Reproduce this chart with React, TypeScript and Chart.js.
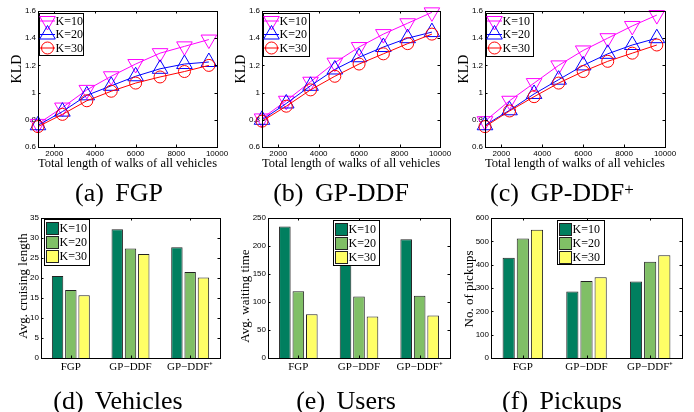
import React, { useEffect, useRef } from "react";
import { Chart, registerables } from "chart.js";
import { drawPoint } from "chart.js/helpers";

Chart.register(...registerables);

const W = 694;
const H = 412;

// ---------- data ----------
const walkLengths = [1200, 2400, 3600, 4800, 6000, 7200, 8400, 9600];
const walkTicks = [2000, 4000, 6000, 8000, 10000];
const kldTicks = [0.6, 0.8, 1.0, 1.2, 1.4, 1.6];
const seriesLabels = ["K=10", "K=20", "K=30"];

const fgpK10 = [0.77, 0.89, 1.02, 1.12, 1.21, 1.29, 1.34, 1.39];
const fgpK20 = [0.76, 0.86, 0.98, 1.05, 1.12, 1.175, 1.21, 1.225];
const fgpK30 = [0.75, 0.84, 0.94, 1.01, 1.07, 1.115, 1.155, 1.2];

const ddfK10 = [0.81, 0.94, 1.08, 1.22, 1.335, 1.43, 1.51, 1.59];
const ddfK20 = [0.8, 0.92, 1.05, 1.17, 1.26, 1.335, 1.4, 1.445];
const ddfK30 = [0.79, 0.9, 1.02, 1.12, 1.21, 1.285, 1.36, 1.43];

const ddfPlusK10 = [0.79, 0.94, 1.07, 1.2, 1.31, 1.4, 1.49, 1.57];
const ddfPlusK20 = [0.76, 0.87, 0.99, 1.095, 1.2, 1.285, 1.35, 1.4];
const ddfPlusK30 = [0.75, 0.865, 0.97, 1.07, 1.155, 1.23, 1.29, 1.35];

const methods = ["FGP", "GP\u2212DDF", "GP\u2212DDF\u207A"];

const cruisingK10 = [20.5, 32.2, 27.7];
const cruisingK20 = [17, 27.4, 21.5];
const cruisingK30 = [15.7, 26, 20.1];
const cruisingTicks = [0, 5, 10, 15, 20, 25, 30, 35];

const waitingK10 = [235, 220, 212];
const waitingK20 = [119, 110, 111];
const waitingK30 = [78, 74, 76];
const waitingTicks = [0, 50, 100, 150, 200, 250];

const pickupsK10 = [430, 285, 328];
const pickupsK20 = [512, 330, 413];
const pickupsK30 = [550, 346, 440];
const pickupsTicks = [0, 100, 200, 300, 400, 500, 600];

// ---------- styles ----------
const lineColors = ["#ff00ff", "#0000ff", "#ff0000"];
const markerStyles = ["triangle", "triangle", "circle"];
const markerRotations = [180, 0, 0];
const markerRadii = [9, 9, 6];
const barColors = ["#007f5f", "#80bf66", "#ffff66"];
const SERIF = "'Liberation Serif', 'Times New Roman', serif";
const SANS = "'Liberation Sans', Arial, sans-serif";

type Rect = [number, number, number, number];

const decor = {
  id: "decor",
  afterDraw(chart: any, _args: any, opts: any) {
    const { ctx, chartArea: a } = chart;
    const xs = chart.scales.x;
    const ys = chart.scales.y;
    const tl = 2.5;
    ctx.save();
    ctx.strokeStyle = "#000";
    ctx.lineWidth = 1;
    ctx.beginPath();
    xs.ticks.forEach((_t: any, i: number) => {
      const p = Math.round(xs.getPixelForTick(i)) + 0.5;
      ctx.moveTo(p, a.bottom);
      ctx.lineTo(p, a.bottom - tl);
      ctx.moveTo(p, a.top);
      ctx.lineTo(p, a.top + tl);
    });
    ys.ticks.forEach((_t: any, i: number) => {
      const p = Math.round(ys.getPixelForTick(i)) + 0.5;
      ctx.moveTo(a.left, p);
      ctx.lineTo(a.left + tl, p);
      ctx.moveTo(a.right, p);
      ctx.lineTo(a.right - tl, p);
    });
    ctx.stroke();
    ctx.strokeRect(
      Math.round(a.left) + 0.5,
      Math.round(a.top) + 0.5,
      Math.round(a.width),
      Math.round(a.height)
    );

    // legend
    const lg = opts.legend;
    if (lg) {
      ctx.fillStyle = "#fff";
      ctx.fillRect(lg.x, lg.y, lg.w, lg.h);
      ctx.strokeStyle = "#000";
      ctx.strokeRect(Math.round(lg.x) + 0.5, Math.round(lg.y) + 0.5, lg.w, lg.h);
      ctx.font = `${lg.size}px ${SERIF}`;
      ctx.textBaseline = "middle";
      ctx.textAlign = "left";
      chart.data.datasets.forEach((ds: any, i: number) => {
        const ry = lg.y + lg.rows[i];
        if (opts.kind === "line") {
          ctx.strokeStyle = ds.borderColor;
          ctx.lineWidth = 1;
          ctx.beginPath();
          ctx.moveTo(lg.x + 1, ry);
          ctx.lineTo(lg.x + 16, ry);
          ctx.stroke();
          ctx.fillStyle = "rgba(0,0,0,0)";
          drawPoint(
            ctx,
            {
              pointStyle: ds.pointStyle,
              rotation: ds.pointRotation,
              radius: ds.pointRadius,
              borderWidth: 1,
            } as any,
            lg.x + 8.5,
            ry
          );
          ctx.fillStyle = "#000";
          ctx.fillText(ds.label, lg.x + 16.5, ry + 0.5);
        } else {
          ctx.fillStyle = ds.backgroundColor;
          ctx.fillRect(lg.x + 2.5, ry - 6, 12, 12);
          ctx.strokeStyle = "#222";
          ctx.strokeRect(lg.x + 2.5, ry - 6, 12, 12);
          ctx.fillStyle = "#000";
          ctx.fillText(ds.label, lg.x + 15.5, ry + 0.5);
        }
      });
    }

    // y title
    const yt = opts.yTitle;
    if (yt) {
      ctx.save();
      ctx.translate(yt.x, yt.y);
      ctx.rotate(-Math.PI / 2);
      ctx.font = `${yt.size}px ${SERIF}`;
      ctx.fillStyle = "#000";
      ctx.textAlign = "center";
      ctx.textBaseline = "middle";
      ctx.fillText(yt.text, 0, 0);
      ctx.restore();
    }
    ctx.restore();
  },
};

function lineConfig(rect: Rect, series: number[][], legend: any, yTitle: any) {
  const [L, T, R, B] = rect;
  const yW = 20;
  const xH = 24;
  return {
    type: "line",
    data: {
      datasets: series.map((vals, i) => ({
        label: seriesLabels[i],
        data: walkLengths.map((x, j) => ({ x, y: vals[j] })),
        borderColor: lineColors[i],
        borderWidth: 1,
        pointStyle: markerStyles[i],
        pointRotation: markerRotations[i],
        pointRadius: markerRadii[i],
        pointBorderWidth: 1,
        pointBorderColor: lineColors[i],
        pointBackgroundColor: "rgba(0,0,0,0)",
        tension: 0,
        fill: false,
        clip: false,
        order: 2 - i,
      })),
    },
    options: {
      responsive: false,
      animation: false,
      devicePixelRatio: 1,
      events: [],
      layout: { padding: { left: L - yW, top: T, right: W - R, bottom: H - B - xH } },
      plugins: {
        legend: { display: false },
        tooltip: { enabled: false },
        decor: { kind: "line", legend, yTitle },
      },
      scales: {
        x: {
          type: "linear",
          min: 1200,
          max: 10000,
          afterFit: (s: any) => {
            s.height = xH;
          },
          afterBuildTicks: (s: any) => {
            s.ticks = walkTicks.map((v) => ({ value: v }));
          },
          grid: { display: false, drawTicks: false },
          border: { display: false },
          ticks: {
            color: "#000",
            font: { family: SANS, size: 8 },
            padding: 2,
            maxRotation: 0,
            autoSkip: false,
            callback: (v: any) => String(v),
          },
          title: {
            display: true,
            text: "Total length of walks of all vehicles",
            color: "#000",
            font: { family: SERIF, size: 13 },
            padding: 0,
          },
        },
        y: {
          type: "linear",
          min: 0.6,
          max: 1.6,
          afterFit: (s: any) => {
            s.width = yW;
          },
          afterBuildTicks: (s: any) => {
            s.ticks = kldTicks.map((v) => ({ value: v }));
          },
          grid: { display: false, drawTicks: false },
          border: { display: false },
          ticks: {
            color: "#000",
            font: { family: SANS, size: 8 },
            padding: 2,
            autoSkip: false,
            callback: (v: any) => String(Number(Number(v).toFixed(1))),
          },
        },
      },
    },
    plugins: [decor],
  };
}

function barConfig(rect: Rect, series: number[][], ticks: number[], legend: any, yTitle: any) {
  const [L, T, R, B] = rect;
  const yW = 20;
  const xH = 22;
  return {
    type: "bar",
    data: {
      labels: methods,
      datasets: series.map((vals, i) => ({
        label: seriesLabels[i],
        data: vals,
        backgroundColor: barColors[i],
        borderColor: "#222",
        borderWidth: 1,
        categoryPercentage: 0.667,
        barPercentage: 0.86,
      })),
    },
    options: {
      responsive: false,
      animation: false,
      devicePixelRatio: 1,
      events: [],
      layout: { padding: { left: L - yW, top: T, right: W - R, bottom: H - B - xH } },
      plugins: {
        legend: { display: false },
        tooltip: { enabled: false },
        decor: { kind: "bar", legend, yTitle },
      },
      scales: {
        x: {
          type: "category",
          offset: true,
          afterFit: (s: any) => {
            s.height = xH;
          },
          grid: { display: false, drawTicks: false, offset: true },
          border: { display: false },
          ticks: {
            color: "#000",
            font: { family: SERIF, size: 11 },
            padding: 3,
            maxRotation: 0,
            autoSkip: false,
          },
        },
        y: {
          type: "linear",
          min: ticks[0],
          max: ticks[ticks.length - 1],
          afterFit: (s: any) => {
            s.width = yW;
          },
          afterBuildTicks: (s: any) => {
            s.ticks = ticks.map((v) => ({ value: v }));
          },
          grid: { display: false, drawTicks: false },
          border: { display: false },
          ticks: {
            color: "#000",
            font: { family: SANS, size: 8 },
            padding: 2,
            autoSkip: false,
            callback: (v: any) => String(v),
          },
        },
      },
    },
    plugins: [decor],
  };
}

function Panel({ make }: { make: () => any }) {
  const ref = useRef<HTMLCanvasElement>(null);
  useEffect(() => {
    const chart = new Chart(ref.current as HTMLCanvasElement, make());
    return () => chart.destroy();
  }, []);
  return (
    <canvas
      ref={ref}
      width={W}
      height={H}
      style={{ position: "absolute", left: 0, top: 0, width: W, height: H }}
    />
  );
}

const lineRows = [8, 21.5, 35];
const barRows = [9.5, 23.5, 37.5];

function Caption({ cx, top, children }: { cx: number; top: number; children: any }) {
  return (
    <div
      style={{
        position: "absolute",
        left: cx - 120,
        width: 240,
        top,
        textAlign: "center",
        fontFamily: SERIF,
        fontSize: 26,
        lineHeight: "26px",
        wordSpacing: "5px",
        whiteSpace: "nowrap",
        color: "#000",
      }}
    >
      {children}
    </div>
  );
}

export default function App() {
  return (
    <div
      style={{
        position: "absolute",
        left: 0,
        top: 0,
        width: W,
        height: H,
        background: "#fff",
        overflow: "hidden",
      }}
    >
      <Panel
        make={() =>
          lineConfig(
            [38, 11, 217, 147],
            [fgpK10, fgpK20, fgpK30],
            { x: 39, y: 13, w: 44, h: 42, rows: lineRows, size: 12 },
            { text: "KLD", x: 17, y: 69, size: 14 }
          )
        }
      />
      <Panel
        make={() =>
          lineConfig(
            [262, 11, 440, 147],
            [ddfK10, ddfK20, ddfK30],
            { x: 263, y: 13, w: 46, h: 43, rows: lineRows, size: 12 },
            { text: "KLD", x: 241, y: 69, size: 14 }
          )
        }
      />
      <Panel
        make={() =>
          lineConfig(
            [485, 11, 665, 147],
            [ddfPlusK10, ddfPlusK20, ddfPlusK30],
            { x: 486, y: 13, w: 47, h: 43, rows: lineRows, size: 12 },
            { text: "KLD", x: 464, y: 69, size: 14 }
          )
        }
      />
      <Panel
        make={() =>
          barConfig(
            [41, 218, 220, 358],
            [cruisingK10, cruisingK20, cruisingK30],
            cruisingTicks,
            { x: 44, y: 219, w: 45, h: 46, rows: barRows, size: 12 },
            { text: "Avg. cruising length", x: 24, y: 286, size: 13 }
          )
        }
      />
      <Panel
        make={() =>
          barConfig(
            [268, 218, 450, 358],
            [waitingK10, waitingK20, waitingK30],
            waitingTicks,
            { x: 333, y: 220, w: 46, h: 45, rows: barRows, size: 12 },
            { text: "Avg. waiting time", x: 246, y: 296, size: 13 }
          )
        }
      />
      <Panel
        make={() =>
          barConfig(
            [491, 218, 682, 358],
            [pickupsK10, pickupsK20, pickupsK30],
            pickupsTicks,
            { x: 557, y: 220, w: 47, h: 44, rows: barRows, size: 12 },
            { text: "No. of pickups", x: 470, y: 289, size: 13 }
          )
        }
      />
      <Caption cx={119} top={180}>(a) FGP</Caption>
      <Caption cx={341} top={180}>(b) GP-DDF</Caption>
      <Caption cx={562} top={180}>
        (c) GP-DDF<sup style={{ fontSize: 17, verticalAlign: "6px", lineHeight: 0 }}>+</sup>
      </Caption>
      <Caption cx={118} top={388}>(d) Vehicles</Caption>
      <Caption cx={346} top={388}>(e) Users</Caption>
      <Caption cx={562} top={388}>(f) Pickups</Caption>
    </div>
  );
}
